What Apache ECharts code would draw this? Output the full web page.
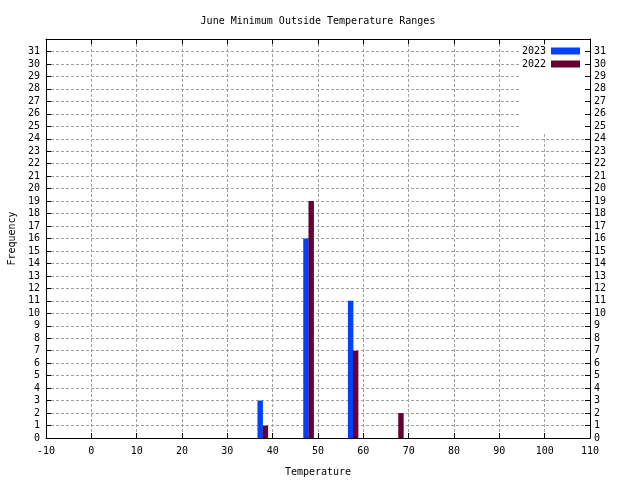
<!DOCTYPE html>
<html>
<head>
<meta charset="utf-8">
<script src="https://cdn.jsdelivr.net/npm/echarts@6/dist/echarts.min.js"></script>
<style>html,body{margin:0;padding:0;background:#fff}#c{width:640px;height:480px}</style>
</head>
<body>
<div id="c"></div>
<script>
const titleText = 'June Minimum Outside Temperature Ranges';
const xLabel = 'Temperature';
const yLabel = 'Frequency';
const seriesNames = ['2023', '2022'];
const temps2023 = [37.25, 47.35, 57.2];
const counts2023 = [3, 16, 11];
const temps2022 = [38.4, 48.5, 58.3, 68.3];
const counts2022 = [1, 19, 7, 2];
const colors = ['#0040ff', '#660033'];
const barW = 1.2;
const FONT = 'DejaVu Sans Mono';

const chart = echarts.init(document.getElementById('c'), null, {renderer: 'canvas'});

function renderBar(params, api) {
  const x = api.value(0), y = api.value(1);
  const p0 = api.coord([x - barW / 2, y]);
  const p1 = api.coord([x + barW / 2, 0]);
  return {
    type: 'rect',
    shape: {x: p0[0], y: p0[1], width: p1[0] - p0[0], height: p1[1] - p0[1]},
    style: {fill: api.visual('color')}
  };
}

const splitStyle = {show: true, lineStyle: {color: '#a0a0a0', type: [3, 2], width: 1}};
const lineBlack = {show: true, onZero: false, lineStyle: {color: '#000', width: 1}};
const tickIn = {show: true, inside: true, length: 5, lineStyle: {color: '#000'}};
const lbl = {fontFamily: FONT, fontSize: 10, color: '#000'};

chart.setOption({
  animation: false,
  title: {text: titleText, left: 313, top: 11, textAlign: 'center',
    textStyle: {fontFamily: FONT, fontSize: 10, fontWeight: 'normal', color: '#000'}},
  grid: {left: 46, right: 50, top: 39, bottom: 42, containLabel: false, outerBoundsMode: 'none'},
  legend: {
    orient: 'vertical', right: 55, top: 41, align: 'right', z: 6,
    itemWidth: 29, itemHeight: 7, itemGap: 3,
    textStyle: {fontFamily: FONT, fontSize: 10, color: '#000'},
    icon: 'rect',
    data: seriesNames
  },
  xAxis: [
    {type: 'value', min: -10, max: 110, interval: 10, position: 'bottom',
      name: xLabel, nameLocation: 'middle', nameGap: 29,
      nameTextStyle: lbl,
      axisLine: lineBlack, axisTick: tickIn, splitLine: splitStyle,
      axisLabel: Object.assign({margin: 8}, lbl)},
    {type: 'value', min: -10, max: 110, interval: 10, position: 'top',
      axisLine: lineBlack, axisTick: tickIn, splitLine: {show: false},
      axisLabel: {show: false}}
  ],
  yAxis: [
    {type: 'value', min: 0, max: 32, interval: 1, position: 'left',
      name: yLabel, nameLocation: 'middle', nameGap: 29, nameRotate: 90,
      nameTextStyle: lbl,
      axisLine: lineBlack, axisTick: tickIn, splitLine: splitStyle,
      axisLabel: Object.assign({margin: 6, formatter: v => v > 31 ? '' : String(v)}, lbl)},
    {type: 'value', min: 0, max: 32, interval: 1, position: 'right',
      axisLine: lineBlack, axisTick: tickIn, splitLine: {show: false},
      axisLabel: Object.assign({margin: 4, formatter: v => v > 31 ? '' : String(v)}, lbl)}
  ],
  graphic: [
    {type: 'rect', z: 3, shape: {x: 520, y: 45, width: 64, height: 88}, style: {fill: '#fff'}}
  ],
  series: [
    {name: seriesNames[0], type: 'custom', renderItem: renderBar, z: 10,
      itemStyle: {color: colors[0]},
      encode: {x: 0, y: 1},
      data: temps2023.map((t, i) => [t, counts2023[i]])},
    {name: seriesNames[1], type: 'custom', renderItem: renderBar, z: 10,
      itemStyle: {color: colors[1]},
      encode: {x: 0, y: 1},
      data: temps2022.map((t, i) => [t, counts2022[i]])}
  ]
});
</script>
</body>
</html>
